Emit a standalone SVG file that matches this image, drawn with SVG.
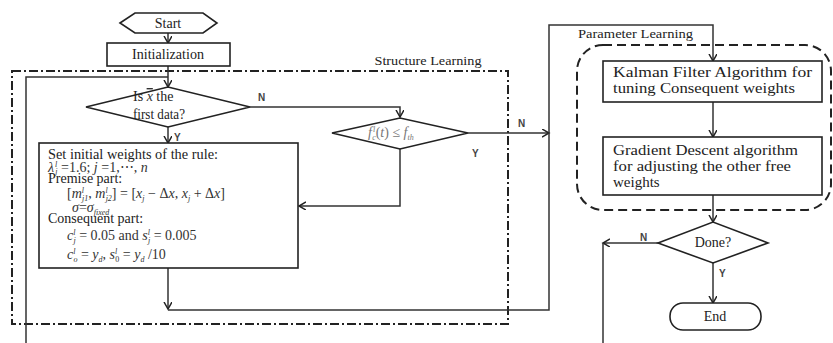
<svg xmlns="http://www.w3.org/2000/svg" width="833" height="343" viewBox="0 0 833 343">
<style>
.n{fill:#fff;stroke:#222;stroke-width:1.6}
.c{fill:none;stroke:#333;stroke-width:1.5}
.t{font-family:"Liberation Serif","Times New Roman",serif;font-size:14px;fill:#222}
.m{font-family:"Liberation Serif","Times New Roman",serif;font-size:14px;fill:#333;font-style:italic}
.s{font-size:8px}
.l{font-family:"Liberation Sans",Arial,sans-serif;font-size:10px;font-weight:bold;fill:#444}
.dd{fill:none;stroke:#222;stroke-width:2;stroke-dasharray:9,3,2,3}
.da{fill:none;stroke:#222;stroke-width:2;stroke-dasharray:9,5}
</style>
<defs>
<marker id="a" markerUnits="userSpaceOnUse" markerWidth="10" markerHeight="10" refX="7" refY="4" orient="auto">
<path d="M0,0 L7,4 L0,8" fill="none" stroke="#222" stroke-width="1.5"/>
</marker>
</defs>
<rect fill="#fff" width="833" height="343"/>

<g id="structure-learning">
<rect class="dd" x="12" y="71" width="496" height="253"/>
<text class="t" x="428" y="65" text-anchor="middle" textLength="107" lengthAdjust="spacingAndGlyphs" style="font-size:13px">Structure Learning</text>
</g>
<g id="parameter-learning">
<rect class="da" x="577" y="45" width="254" height="165" rx="26"/>
<text class="t" x="578" y="38" textLength="115" lengthAdjust="spacingAndGlyphs" style="font-size:13px">Parameter Learning</text>
</g>

<g id="connectors">
<path class="c" d="M168,33 V43" marker-end="url(#a)"/>
<path class="c" d="M168,66 V87" marker-end="url(#a)"/>
<path class="c" d="M26,343 V77 H168"/>
<path class="c" d="M250,107 H400 V117" marker-end="url(#a)"/>
<path class="c" d="M168,127 V143" marker-end="url(#a)"/>
<path class="c" d="M400,149 V206 H299" marker-end="url(#a)"/>
<path class="c" d="M468,133 H549" marker-end="url(#a)"/>
<path class="c" d="M168,268 V309" marker-end="url(#a)"/>
<path class="c" d="M168,310 H549 V25 H713 V61" marker-end="url(#a)"/>
<path class="c" d="M713,102 V137" marker-end="url(#a)"/>
<path class="c" d="M713,195 V222" marker-end="url(#a)"/>
<path class="c" d="M658,243 H603" marker-end="url(#a)"/>
<path class="c" d="M603,243 V343"/>
<path class="c" d="M713,263 V303" marker-end="url(#a)"/>
<text class="l" x="258" y="101">N</text>
<text class="l" x="174" y="141">Y</text>
<text class="l" x="518" y="127">N</text>
<text class="l" x="472" y="157">Y</text>
<text class="l" x="640" y="241">N</text>
<text class="l" x="719" y="277">Y</text>
</g>

<g id="start">
<polygon class="n" points="120,23 135,13 203,13 217,23 203,33 135,33"/>
<text class="t" x="168" y="28" text-anchor="middle">Start</text>
</g>

<g id="initialization">
<rect class="n" x="107" y="43" width="123" height="23"/>
<text class="t" x="168" y="59" text-anchor="middle" textLength="72" lengthAdjust="spacingAndGlyphs">Initialization</text>
</g>

<g id="first-data">
<polygon class="n" points="86,107 168,87 250,107 168,127"/>
<text class="t" x="133" y="101">Is <tspan class="m" style="text-decoration:overline">x</tspan>  the</text>
<text class="t" x="133" y="119" textLength="52" lengthAdjust="spacingAndGlyphs">first data?</text>
</g>

<g id="threshold">
<polygon class="n" points="332,133 400,118 468,133 400,149"/>
<text class="m" x="368" y="137" style="fill:#777">f<tspan class="s" dx="1" dy="-5">l</tspan><tspan class="s" dx="-3" dy="8">c</tspan><tspan dy="-3" style="font-style:normal">(</tspan>t<tspan style="font-style:normal">) ≤ </tspan>f<tspan class="s" dy="3">th</tspan></text>
</g>

<g id="initial-weights">
<rect class="n" x="39" y="143" width="259" height="125"/>
<text class="t" x="48" y="159" textLength="170" lengthAdjust="spacingAndGlyphs">Set initial weights of the rule:</text>
<text class="m" x="48" y="172">λ<tspan class="s" dx="1" dy="-5">l</tspan><tspan class="s" dx="-2" dy="7">j</tspan><tspan dy="-2" style="font-style:normal"> =1.6; </tspan>j<tspan style="font-style:normal"> =1,⋯, </tspan>n</text>
<text class="t" x="48" y="183">Premise part:</text>
<text class="m" x="67" y="198"><tspan style="font-style:normal">[</tspan>m<tspan class="s" dy="-5">l</tspan><tspan class="s" dx="-2" dy="8">j1</tspan><tspan dy="-3" style="font-style:normal">, </tspan>m<tspan class="s" dy="-5">l</tspan><tspan class="s" dx="-2" dy="8">j2</tspan><tspan dy="-3" style="font-style:normal">] = [</tspan>x<tspan class="s" dy="3">j</tspan><tspan dy="-3" style="font-style:normal"> − Δ</tspan>x<tspan style="font-style:normal">, </tspan>x<tspan class="s" dy="3">j</tspan><tspan dy="-3" style="font-style:normal"> + Δ</tspan>x<tspan style="font-style:normal">]</tspan></text>
<text class="m" x="72" y="212">σ<tspan style="font-style:normal">=</tspan>σ<tspan class="s" dy="3">fixed</tspan></text>
<text class="t" x="48" y="223">Consequent part:</text>
<text class="m" x="67" y="240">c<tspan class="s" dy="-5">l</tspan><tspan class="s" dx="-2" dy="8">j</tspan><tspan dy="-3" style="font-style:normal"> = 0.05 and </tspan>s<tspan class="s" dy="-5">l</tspan><tspan class="s" dx="-2" dy="8">j</tspan><tspan dy="-3" style="font-style:normal"> = 0.005</tspan></text>
<text class="m" x="67" y="259">c<tspan class="s" dy="-5">l</tspan><tspan class="s" dx="-2" dy="8">o</tspan><tspan dy="-3" style="font-style:normal"> = </tspan>y<tspan class="s" dy="3">d</tspan><tspan dy="-3" style="font-style:normal">, </tspan>s<tspan class="s" dy="-5">l</tspan><tspan class="s" dx="-2" dy="8" style="font-style:normal">0</tspan><tspan dy="-3" style="font-style:normal"> = </tspan>y<tspan class="s" dy="3">d</tspan><tspan dy="-3" style="font-style:normal"> /10</tspan></text>
</g>

<g id="kalman">
<rect class="n" x="603" y="61" width="219" height="41"/>
<text class="t" x="613" y="77" textLength="199" lengthAdjust="spacingAndGlyphs" style="font-size:15px">Kalman Filter Algorithm for</text>
<text class="t" x="613" y="93" textLength="182" lengthAdjust="spacingAndGlyphs" style="font-size:15px">tuning Consequent weights</text>
</g>

<g id="gradient">
<rect class="n" x="603" y="137" width="219" height="58"/>
<text class="t" x="613" y="155" textLength="185" lengthAdjust="spacingAndGlyphs" style="font-size:15px">Gradient Descent algorithm</text>
<text class="t" x="613" y="171" textLength="178" lengthAdjust="spacingAndGlyphs" style="font-size:15px">for adjusting the other free</text>
<text class="t" x="613" y="187" style="font-size:15px">weights</text>
</g>

<g id="done">
<polygon class="n" points="658,243 713,222 768,243 713,263"/>
<text class="t" x="713" y="247" text-anchor="middle">Done?</text>
</g>

<g id="end">
<rect class="n" x="670" y="303" width="91" height="27" rx="13"/>
<text class="t" x="715" y="321" text-anchor="middle">End</text>
</g>
</svg>
